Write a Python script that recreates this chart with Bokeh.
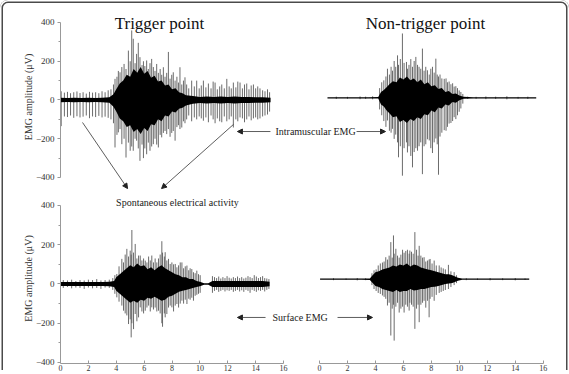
from bokeh.plotting import figure
from bokeh.models import (Range1d, LinearAxis, FixedTicker, Label, Arrow,
                          NormalHead, ColumnDataSource)
from bokeh.layouts import row, column
from bokeh.embed import file_html
from bokeh.resources import INLINE

FONT = "Liberation Serif"

# ---------------- tick labels ----------------
y_ticks = [-400, -200, 0, 200, 400]
y_minor = [-300, -100, 100, 300]
x_ticks = [0, 2, 4, 6, 8, 10, 12, 14, 16]

# ---------------- Trigger point, intramuscular EMG (µV) ----------------
tl_core_t = [0, 0.5, 1, 1.5, 2, 2.5, 3, 3.5, 3.8, 4.0, 4.25, 4.5, 4.75, 5.0, 5.25, 5.5, 5.75,
             6.0, 6.25, 6.5, 6.75, 7.0, 7.25, 7.5, 7.75, 8.0, 8.25, 8.5, 8.75, 9.0,
             9.5, 10, 10.5, 11, 11.5, 12, 12.5, 13, 13.5, 14, 14.5, 15.07]
tl_core_hi = [12, 10, 12, 10, 12, 10, 12, 14, 30, 55, 85, 100, 130, 120, 160, 140, 170,
              135, 150, 115, 125, 95, 100, 75, 80, 55, 60, 40, 35, 25,
              20, 15, 18, 16, 18, 15, 18, 16, 15, 14, 14, 12]
tl_core_lo = [-12, -10, -12, -10, -12, -10, -12, -14, -35, -60, -95, -110, -140, -130, -165, -150, -175,
              -145, -160, -125, -130, -100, -110, -80, -85, -60, -65, -45, -40, -28,
              -20, -15, -18, -16, -18, -15, -18, -16, -15, -14, -14, -12]
tl_spike_t = [0.05, 0.28, 0.5, 0.72, 0.95, 1.18, 1.4, 1.62, 1.85, 2.08, 2.3, 2.52, 2.75, 2.98, 3.2, 3.42, 3.62,
              3.80, 3.91, 4.05, 4.15, 4.27, 4.40, 4.56, 4.70, 4.87, 5.00, 5.11, 5.22, 5.35, 5.46, 5.58,
              5.70, 5.85, 5.95, 6.05, 6.18, 6.30, 6.42, 6.54, 6.66, 6.78, 6.90, 7.02, 7.15, 7.26, 7.38,
              7.50, 7.62, 7.74, 7.86, 7.98, 8.09, 8.22, 8.35, 8.46, 8.57, 8.70, 8.82, 8.93,
              9.05, 9.2, 9.41, 9.6, 9.77, 9.95, 10.1, 10.25, 10.43, 10.61, 10.8, 10.95, 11.09, 11.25,
              11.42, 11.57, 11.75, 11.93, 12.1, 12.25, 12.40, 12.58, 12.72, 12.88, 13.05, 13.2, 13.36,
              13.52, 13.68, 13.84, 14.0, 14.15, 14.31, 14.5, 14.67, 14.85, 15.0]
tl_spike_hi = [45, 38, 42, 35, 40, 44, 36, 40, 33, 42, 38, 40, 35, 45, 40, 50, 55,
               80, 109, 120, 150, 143, 170, 186, 160, 255, 200, 359, 316, 190, 238, 295,
               221, 180, 200, 175, 204, 160, 190, 212, 170, 150, 186, 140, 160, 130, 169,
               120, 140, 248, 110, 130, 143, 100, 120, 90, 169, 80, 100, 117,
               80, 60, 100, 70, 100, 60, 75, 100, 65, 85, 60, 95, 90, 55,
               70, 80, 60, 109, 70, 60, 90, 65, 95, 90, 60, 80, 85,
               55, 75, 80, 60, 70, 60, 50, 45, 55, 40]
tl_spike_lo = [-135, -85, -88, -80, -92, -84, -90, -86, -80, -94, -85, -88, -82, -90, -86, -92, -100,
               -120, -245, -180, -167, -150, -228, -200, -297, -220, -262, -240, -262, -200, -210, -250,
               -314, -230, -300, -250, -280, -220, -262, -240, -228, -200, -230, -245, -180, -193, -170,
               -160, -176, -150, -190, -170, -160, -210, -140, -130, -150, -142, -110, -120,
               -100, -80, -110, -90, -100, -85, -95, -107, -90, -115, -80, -100, -120, -95,
               -110, -115, -85, -110, -100, -85, -142, -100, -110, -90, -95, -115, -100,
               -85, -105, -95, -90, -100, -95, -85, -80, -75, -60]

# ---------------- Non-trigger point, intramuscular EMG ----------------
tr_core_t = [0.57, 1.5, 2.5, 3.5, 4.2, 4.4, 4.6, 4.8, 5.0, 5.25, 5.5, 5.75, 6.0, 6.25, 6.5, 6.75,
             7.0, 7.25, 7.5, 7.75, 8.0, 8.25, 8.5, 8.75, 9.0, 9.25, 9.5, 9.75, 10.0, 10.3,
             11, 12, 13, 14, 15, 15.5]
tr_core_hi = [3, 3, 3, 3, 4, 30, 40, 55, 70, 85, 80, 105, 95, 110, 90, 100,
              80, 95, 70, 80, 60, 65, 45, 50, 30, 35, 20, 22, 12, 5,
              3, 3, 3, 3, 3, 3]
tr_core_lo = [-3, -3, -3, -3, -4, -35, -45, -65, -80, -100, -95, -125, -115, -130, -110, -120,
              -100, -110, -85, -90, -65, -75, -50, -55, -35, -40, -22, -25, -12, -5,
              -3, -3, -3, -3, -3, -3]
tr_spike_t = [1.2, 2.0, 2.9, 3.3, 3.8,
              4.3, 4.45, 4.6, 4.75, 4.86, 5.0, 5.12, 5.22, 5.34, 5.45, 5.58, 5.65, 5.78, 5.93, 6.05,
              6.22, 6.29, 6.4, 6.53, 6.65, 6.77, 6.89, 7.01, 7.12, 7.24, 7.36, 7.48, 7.60, 7.72, 7.85,
              7.96, 8.08, 8.2, 8.32, 8.42, 8.51, 8.62, 8.75, 8.92, 9.05, 9.15, 9.27, 9.4, 9.52, 9.63,
              9.75, 9.87, 9.99, 10.11, 10.25,
              10.6, 11.2, 11.9, 12.6, 13.4, 14.2, 14.9]
tr_spike_hi = [6, 5, 7, 6, 8,
               50, 80, 90, 110, 150, 120, 160, 140, 190, 160, 219, 170, 200, 332, 180,
               185, 150, 170, 200, 160, 190, 211, 170, 160, 150, 254, 140, 160, 142, 120,
               150, 160, 130, 202, 120, 110, 120, 100, 98, 100, 80, 84, 70, 75, 58,
               60, 50, 38, 30, 20,
               6, 5, 7, 6, 8, 5, 6]
tr_spike_lo = [-6, -5, -7, -6, -8,
               -60, -90, -120, -150, -117, -170, -180, -160, -212, -190, -230, -307, -250, -402, -260,
               -230, -282, -250, -300, -359, -280, -260, -273, -250, -230, -394, -250, -240, -214, -220,
               -260, -285, -230, -210, -240, -397, -200, -180, -167, -170, -150, -133, -130, -120, -100,
               -110, -90, -72, -55, -30,
               -6, -5, -7, -6, -8, -5, -6]

# ---------------- Trigger point, surface EMG ----------------
bl_core_t = [0, 0.5, 1, 1.5, 2, 2.5, 3, 3.5, 3.85, 4.0, 4.25, 4.5, 4.75, 5.0, 5.25, 5.5, 5.75,
             6.0, 6.25, 6.5, 6.75, 7.0, 7.25, 7.5, 7.75, 8.0, 8.25, 8.5, 8.75, 9.0, 9.25, 9.5,
             9.75, 10.0, 10.3, 10.6, 10.9, 11.5, 12, 12.5, 13, 13.5, 14, 14.5, 15]
bl_core_hi = [10, 10, 10, 10, 10, 10, 10, 12, 15, 35, 50, 65, 80, 95, 85, 105, 90,
              95, 75, 85, 70, 85, 95, 80, 70, 60, 50, 45, 35, 35, 25, 25,
              15, 12, 4, 4, 15, 15, 15, 15, 15, 15, 15, 15, 12]
bl_core_lo = [-10, -10, -10, -10, -10, -10, -10, -12, -15, -35, -50, -65, -80, -95, -85, -95, -80,
              -85, -70, -75, -65, -75, -85, -80, -65, -60, -50, -40, -35, -30, -25, -20,
              -15, -12, -4, -4, -15, -15, -15, -15, -15, -15, -15, -15, -12]
bl_spike_t = [0.2, 0.5, 0.8, 1.1, 1.4, 1.7, 2.0, 2.3, 2.6, 2.9, 3.2, 3.5, 3.75,
              3.9, 4.04, 4.2, 4.4, 4.52, 4.64, 4.76, 4.88, 5.0, 5.07, 5.12, 5.24, 5.36, 5.48, 5.6,
              5.72, 5.84, 5.96, 6.08, 6.2, 6.32, 6.44, 6.55, 6.67, 6.79, 6.91, 7.03, 7.15, 7.27, 7.32,
              7.45, 7.51, 7.63, 7.75, 7.87, 7.99, 8.11, 8.23, 8.35, 8.47, 8.59, 8.71, 8.83, 8.95, 9.07,
              9.2, 9.3, 9.42, 9.54, 9.66, 9.78, 9.9, 10.02,
              10.9, 11.05, 11.2, 11.35, 11.5, 11.65, 11.8, 11.95, 12.1, 12.25, 12.4, 12.55, 12.7, 12.85,
              13.0, 13.15, 13.3, 13.45, 13.6, 13.75, 13.9, 14.05, 14.2, 14.35, 14.5, 14.65, 14.8, 14.95]
bl_spike_hi = [20, 18, 22, 15, 20, 18, 22, 20, 25, 18, 20, 22, 30,
               45, 51, 90, 128, 110, 150, 179, 140, 170, 150, 275, 160, 204, 130, 145,
               145, 120, 130, 119, 110, 140, 120, 145, 110, 130, 110, 130, 150, 218, 160,
               140, 162, 120, 128, 102, 110, 100, 102, 85, 95, 110, 110, 80, 90, 94,
               70, 80, 76, 60, 55, 68, 50, 45,
               40, 35, 30, 38, 28, 35, 30, 40, 32, 28, 35, 30, 38, 30,
               35, 28, 32, 40, 35, 30, 45, 38, 30, 35, 40, 30, 28, 25]
bl_spike_lo = [-20, -15, -22, -18, -20, -25, -18, -22, -20, -25, -18, -20, -30,
               -50, -68, -90, -110, -136, -150, -160, -204, -180, -272, -200, -230, -153, -190, -170,
               -119, -140, -150, -136, -120, -110, -140, -119, -130, -120, -140, -136, -150, -200, -218,
               -150, -170, -153, -120, -110, -119, -140, -110, -102, -120, -100, -85, -100, -80, -102,
               -75, -80, -70, -85, -60, -55, -50, -45,
               -45, -35, -30, -40, -35, -30, -38, -32, -35, -30, -40, -35, -30, -38,
               -32, -40, -30, -35, -45, -30, -35, -40, -32, -35, -30, -38, -30, -25]

# ---------------- Non-trigger point, surface EMG ----------------
br_core_t = [0.04, 1, 2, 3, 3.6, 3.8, 4.0, 4.25, 4.5, 4.75, 5.0, 5.25, 5.5, 5.75, 6.0, 6.25, 6.5,
             6.75, 7.0, 7.25, 7.5, 7.75, 8.0, 8.25, 8.5, 8.75, 9.0, 9.25, 9.5, 9.9, 10.2,
             11, 12, 13, 14, 15]
br_core_hi = [3, 3, 3, 3, 4, 20, 35, 40, 50, 55, 60, 70, 65, 75, 70, 80, 65,
              75, 70, 60, 55, 50, 45, 40, 35, 30, 25, 25, 20, 8, 3,
              3, 3, 3, 3, 3]
br_core_lo = [-3, -3, -3, -3, -4, -20, -35, -40, -50, -55, -60, -65, -55, -65, -60, -60, -50,
              -58, -55, -50, -50, -45, -40, -38, -35, -30, -25, -22, -20, -8, -3,
              -3, -3, -3, -3, -3]
br_spike_t = [1.0, 1.9, 2.7, 3.3,
              3.75, 3.9, 4.05, 4.2, 4.35, 4.5, 4.62, 4.74, 4.86, 4.98, 5.10, 5.2, 5.29, 5.34, 5.46,
              5.58, 5.70, 5.82, 5.94, 6.05, 6.17, 6.29, 6.41, 6.46, 6.58, 6.70, 6.82, 6.94, 7.05, 7.13,
              7.25, 7.37, 7.48, 7.6, 7.72, 7.84, 7.91, 8.05, 8.2, 8.35, 8.56, 8.7, 8.85, 9.0, 9.22,
              9.4, 9.63, 9.8,
              10.5, 11.3, 12.2, 13.1, 14.0, 14.7]
br_spike_hi = [5, 4, 6, 5,
               30, 45, 50, 70, 80, 85, 90, 112, 100, 120, 189, 110, 223, 130, 155,
               120, 110, 125, 150, 135, 144, 150, 130, 146, 140, 130, 240, 150, 120, 170,
               120, 110, 112, 90, 95, 100, 103, 80, 95, 70, 70, 60, 55, 50, 73,
               40, 36, 20,
               5, 4, 6, 5, 6, 4]
br_spike_lo = [-5, -4, -6, -5,
               -30, -50, -60, -70, -75, -83, -90, -100, -134, -120, -287, -150, -130, -313, -140,
               -120, -170, -150, -140, -170, -130, -140, -160, -120, -130, -140, -253, -150, -130, -219,
               -130, -120, -110, -145, -110, -194, -100, -90, -110, -80, -70, -65, -60, -55, -50,
               -40, -30, -20,
               -5, -4, -6, -5, -6, -4]


def make_fig(width, height, xr, yr, left, bottom, margin=None):
    kw = {}
    if margin is not None:
        kw["margin"] = margin
    p = figure(width=width, height=height, x_range=Range1d(*xr), y_range=Range1d(*yr),
               output_backend="svg", toolbar_location=None,
               x_axis_location=None, y_axis_location=None,
               min_border_left=left, min_border_right=0, min_border_top=0,
               min_border_bottom=bottom, **kw)
    p.outline_line_color = None
    p.xgrid.grid_line_color = None
    p.ygrid.grid_line_color = None
    p.background_fill_color = None
    p.border_fill_color = None
    return p


def add_signal(p, t, hi, lo, ct, chi, clo):
    src = ColumnDataSource(dict(t=t, hi=hi, lo=lo))
    p.segment(x0="t", y0="lo", x1="t", y1="hi", source=src,
              line_color="#5a5a5a", line_width=0.9)
    p.varea(x=ct, y1=clo, y2=chi, fill_color="black")


def style_axis(ax):
    ax.axis_line_color = "#999999"
    ax.major_tick_line_color = "#999999"
    ax.minor_tick_line_color = "#999999"
    ax.major_label_text_font = FONT
    ax.major_label_text_color = "#333333"
    ax.axis_label_text_font = FONT
    ax.axis_label_text_font_style = "normal"
    ax.axis_label_text_color = "#333333"


def y_axis(p):
    ax = LinearAxis(bounds=(-400, 400), ticker=FixedTicker(ticks=y_ticks, minor_ticks=y_minor),
                    axis_label="EMG amplitude (μV)")
    style_axis(ax)
    ax.major_label_text_font_size = "9px"
    ax.axis_label_text_font_size = "10px"
    ax.major_tick_out = 3
    ax.major_tick_in = 0
    ax.minor_tick_out = 2
    ax.minor_tick_in = 0
    ax.major_label_standoff = 3
    ax.axis_label_standoff = -1
    p.add_layout(ax, "left")


def x_axis(p):
    ax = LinearAxis(bounds=(0, 16), ticker=FixedTicker(ticks=x_ticks))
    style_axis(ax)
    ax.major_label_text_font_size = "8px"
    ax.major_tick_in = 3
    ax.major_tick_out = 0
    ax.minor_tick_out = 0
    ax.minor_tick_in = 0
    ax.major_label_standoff = 1
    p.add_layout(ax, "below")


def text(p, x, y, s, size, align="left"):
    p.add_layout(Label(x=x, y=y, text=s, text_font=FONT, text_font_size=size,
                       text_color="#1a1a1a", text_align=align, text_baseline="middle"))


def arrow(p, x0, y0, x1, y1):
    p.add_layout(Arrow(end=NormalHead(size=5, fill_color="#222222", line_color="#222222"),
                       x_start=x0, y_start=y0, x_end=x1, y_end=y1,
                       line_color="#333333", line_width=0.8))


# ---- top-left: Trigger point (intramuscular)
tl = make_fig(290, 193, (0, 16.5), (-482.6, 513.5), 60, 0)
add_signal(tl, tl_spike_t, tl_spike_hi, tl_spike_lo, tl_core_t, tl_core_hi, tl_core_lo)
y_axis(tl)
tl.add_layout(Label(x=7.1, y=395, text="Trigger point", text_font=FONT, text_font_size="17px",
                    text_color="#111111", text_align="center", text_baseline="alphabetic"))
arrow(tl, 1.58, -116, 4.81, -457)
arrow(tl, 12.41, -126, 7.25, -457)

# ---- top-right: Non-trigger point (intramuscular)
tr = make_fig(339, 193, (-6.366, 17.88), (-493.9, 502.2), 0, 0, margin=(0, 0, 0, -60))
add_signal(tr, tr_spike_t, tr_spike_hi, tr_spike_lo, tr_core_t, tr_core_hi, tr_core_lo)
tr.add_layout(Label(x=7.58, y=384, text="Non-trigger point", text_font=FONT, text_font_size="17px",
                    text_color="#111111", text_align="center", text_baseline="alphabetic"))
text(tr, -3.15, -174, "Intramuscular EMG", "10px")
arrow(tr, -3.51, -174, -5.87, -174)
arrow(tr, 2.65, -174, 4.72, -174)

# ---- bottom-left: Trigger point (surface)
bl = make_fig(290, 181, (0, 16.5), (-405.1, 461.1), 60, 11)
add_signal(bl, bl_spike_t, bl_spike_hi, bl_spike_lo, bl_core_t, bl_core_hi, bl_core_lo)
y_axis(bl)
x_axis(bl)
text(bl, 8.39, 415, "Spontaneous electrical activity", "10px", align="center")

# ---- bottom-right: Non-trigger point (surface)
br = make_fig(339, 181, (-6.366, 17.88), (-429.6, 436.7), 0, 11, margin=(0, 0, 0, -60))
add_signal(br, br_spike_t, br_spike_hi, br_spike_lo, br_core_t, br_core_hi, br_core_lo)
x_axis(br)
text(br, -3.36, -195, "Surface EMG", "10px")
arrow(br, -3.86, -195, -5.87, -195)
arrow(br, 1.29, -195, 3.79, -195)

layout = column(row(tl, tr), row(bl, br),
                styles={"border-radius": "8px 8px 0 0",
                        "box-shadow": "inset 0 -4px 0 #ffffff, inset 0 0 0 1.5px #ffffff, "
                                      "inset 0 0 0 3px #4a4a4a"})

open("out.html", "w").write(file_html(layout, INLINE))
